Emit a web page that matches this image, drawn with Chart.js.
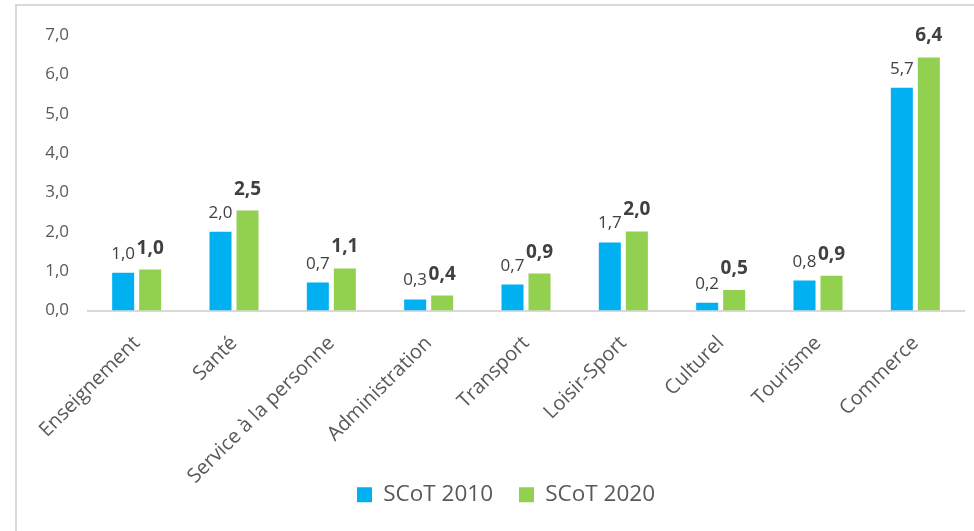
<!DOCTYPE html>
<html>
<head>
<meta charset="utf-8">
<script src="https://cdn.jsdelivr.net/npm/chart.js@4/dist/chart.umd.min.js"></script>
<style>
  html, body { margin: 0; padding: 0; background: #ffffff; overflow: hidden; }
  #frame { position: absolute; left: 15px; top: 4px; width: 1000px; height: 600px; border: 2px solid #d9d9d9; box-sizing: border-box; }
  #wrap { position: absolute; left: 0; top: 0; width: 974px; height: 531px; }
</style>
</head>
<body>
<div id="frame"></div>
<div id="wrap"><canvas id="c" width="974" height="531"></canvas></div>
<script>
const categories = ["Enseignement", "Santé", "Service à la personne", "Administration", "Transport", "Loisir-Sport", "Culturel", "Tourisme", "Commerce"];
const seriesNames = ["SCoT 2010", "SCoT 2020"];
const scot2010 = [0.96, 2.00, 0.71, 0.28, 0.66, 1.73, 0.20, 0.76, 5.66];
const scot2020 = [1.04, 2.54, 1.07, 0.38, 0.94, 2.01, 0.52, 0.88, 6.43];
const yTicks = [0, 1, 2, 3, 4, 5, 6, 7];

const FONT = "'Open Sans', 'Noto Sans', sans-serif";
const fmt = v => v.toFixed(1).replace('.', ',');

// let rotated category labels extend past the scale box (no clipping)
const CatScale = Chart.registry.getScale('category');
CatScale.prototype._computeLabelArea = function () { return undefined; };

const valueLabels = {
  id: 'valueLabels',
  afterDatasetsDraw(chart) {
    const ctx = chart.ctx;
    ctx.save();
    ctx.textAlign = 'center';
    ctx.textBaseline = 'alphabetic';
    chart.data.datasets.forEach((ds, di) => {
      const meta = chart.getDatasetMeta(di);
      const bold = di === 1;
      ctx.font = (bold ? 'bold 19px ' : '17px ') + FONT;
      ctx.fillStyle = '#404040';
      meta.data.forEach((el, i) => {
        ctx.fillText(fmt(ds.data[i]), el.x, el.y - (bold ? 16 : 14));
      });
    });
    ctx.restore();
  }
};

const legendShift = {
  id: 'legendShift',
  afterLayout(chart) {
    if (chart.legend) { chart.legend.left += 14; chart.legend.right += 14; }
  }
};

new Chart(document.getElementById('c'), {
  type: 'bar',
  data: {
    labels: categories,
    datasets: [
      { label: seriesNames[0], data: scot2010, backgroundColor: '#00B0F0', categoryPercentage: 0.555, barPercentage: 0.815 },
      { label: seriesNames[1], data: scot2020, backgroundColor: '#92D050', categoryPercentage: 0.555, barPercentage: 0.815 }
    ]
  },
  options: {
    responsive: false,
    animation: false,
    layout: { padding: { left: 20, right: 10, top: 35, bottom: 15 } },
    plugins: {
      legend: {
        position: 'bottom',
        labels: {
          boxWidth: 15, boxHeight: 15, padding: 26,
          color: '#595959',
          font: { family: FONT, size: 22.5 }
        }
      },
      tooltip: { enabled: false }
    },
    scales: {
      x: {
        grid: { display: false, drawTicks: false },
        border: { display: true, color: '#d9d9d9', width: 2 },
        ticks: {
          color: '#595959', font: { family: FONT, size: 20 },
          minRotation: 45, maxRotation: 45, padding: 21
        },
        afterFit(scale) { scale.height = 147; }
      },
      y: {
        min: 0, max: 7,
        grid: { display: false, drawTicks: false },
        border: { display: false },
        afterBuildTicks(scale) { scale.ticks = yTicks.map(v => ({ value: v })); },
        ticks: {
          color: '#595959', font: { family: FONT, size: 17 }, padding: 19,
          callback: v => fmt(v)
        },
        afterFit(scale) { scale.width = 68; }
      }
    }
  },
  plugins: [valueLabels, legendShift]
});
</script>
</body>
</html>
